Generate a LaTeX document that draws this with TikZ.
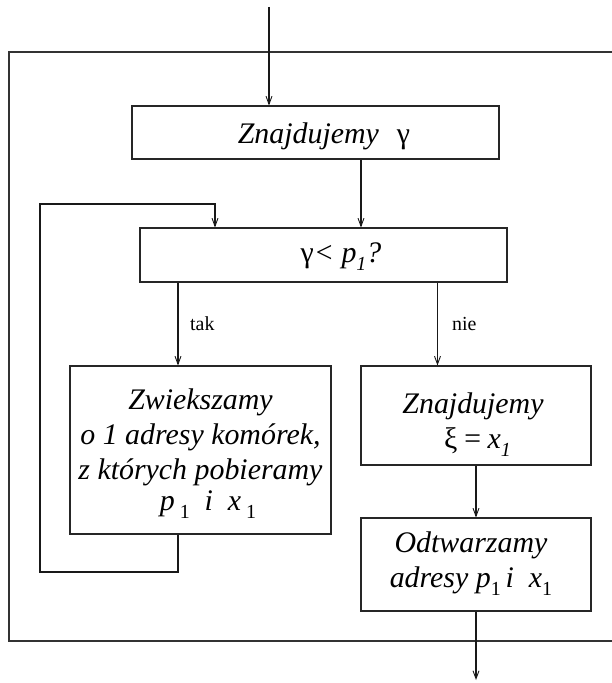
\documentclass[tikz,border=0pt]{standalone}
\usepackage{fontspec}
\setmainfont{Liberation Serif}
\usetikzlibrary{arrows.meta}
\newcommand\lowsub[1]{\raisebox{-0.28em}{\fontsize{20}{20}\selectfont #1}}
\begin{document}
\begin{tikzpicture}[x=1bp,y=-1bp,
  box/.style={draw=black!85, line width=1.1bp, inner sep=0pt},
  frame/.style={draw=black!80, line width=1.2bp},
  arr/.style={draw=black!90, line width=1.1bp, -{Straight Barb[length=8bp,width=6bp,line width=0.9bp]}},
  txt/.style={font=\fontsize{30}{35}\selectfont\itshape, inner sep=0pt},
  lbl/.style={font=\fontsize{20}{22}\selectfont, inner sep=0pt}]
\useasboundingbox (0,0) rectangle (612,683);
% outer frame (open on the right)
\draw[frame] (612,52) -- (9,52) -- (9,641) -- (612,641);
% boxes
\node[box, minimum width=367bp, minimum height=53bp] (b1) at (315.5,132.5) {};
\node[box, minimum width=367bp, minimum height=54bp] (b2) at (323.5,255) {};
\node[box, minimum width=261bp, minimum height=168bp] (lb) at (200.5,450) {};
\node[box, minimum width=230bp, minimum height=99bp] (rb1) at (476,415.5) {};
\node[box, minimum width=230bp, minimum height=93bp] (rb2) at (476,564.5) {};
% texts
\node[txt, anchor=base] (t1) at (324,143) {Znajdujemy\hspace{0.6em}{\upshape γ}};
\node[txt, anchor=base] (t2) at (341,262) {{\upshape γ}< p\lowsub{1}?};
\node[txt, align=center] (t3) at (200.5,454) {Zwiekszamy\\ o 1 adresy komórek,\\ z których pobieramy\\[-4bp] \hspace{0.5em}p\,\lowsub{\upshape 1}\enspace i\enspace x\,\lowsub{\upshape 1}};
\node[txt, align=center] (t4) at (473,425) {Znajdujemy\\ \hspace{0.3em}{\upshape ξ}\,=\,x\lowsub{1}};
\node[txt, align=center] (t5) at (471,564) {Odtwarzamy\\ adresy p\lowsub{\upshape 1}\,i\enspace x\lowsub{\upshape 1}};
\node[lbl, anchor=base west] (tak) at (190,330) {tak};
\node[lbl, anchor=base west] (nie) at (452,330) {nie};
% helper coordinates
\coordinate (in) at (269,7);
\coordinate (out) at (476,680);
\coordinate (ax) at (361,0);
\coordinate (tx) at (178,0);
\coordinate (nx) at (437.5,0);
\coordinate (lx) at (215,0);
\coordinate (l1) at (40,572);
\coordinate (l2) at (40,204);
% connectors
\draw[arr] (in) -- (in |- b1.north);
\draw[arr] (b1.south -| ax) -- (b2.north -| ax);
\draw[arr] (b2.south -| tx) -- (lb.north -| tx);
\draw[arr] (b2.south -| nx) -- (rb1.north -| nx);
\draw[arr] (rb1.south) -- (rb2.north);
\draw[arr] (rb2.south) -- (out);
\draw[arr] (lb.south -| tx) |- (l1) -- (l2) -| (b2.north -| lx);
\end{tikzpicture}
\end{document}
